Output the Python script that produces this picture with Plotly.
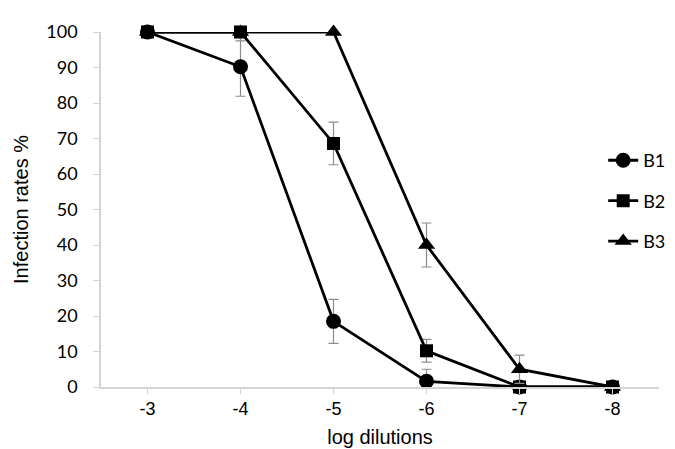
import plotly.graph_objects as go

dilutions = ["-3", "-4", "-5", "-6", "-7", "-8"]

b1 = [100, 90.2, 18.5, 1.6, 0, 0]
b1_err = [None, 8.3, 6.2, 3.4, None, None]

b2 = [100, 100, 68.6, 10.2, 0, 0]
b2_err = [None, 2.5, 6.0, 3.2, None, None]

b3 = [100, 100, 100, 40.0, 5.0, 0]
b3_err = [None, None, None, 6.2, 4.0, None]

series = [
    ("B1", b1, b1_err, "circle", 15),
    ("B2", b2, b2_err, "square", 13),
    ("B3", b3, b3_err, "triangle-up", 15),
]

fig = go.Figure()
for name, vals, err, sym, size in series:
    fig.add_trace(go.Scatter(
        x=dilutions, y=vals, name=name, legendgroup=name,
        mode="lines+markers",
        line=dict(color="black", width=2.8),
        marker=dict(symbol=sym, size=size, color="black"),
        error_y=dict(type="data", array=err, color="#8c8c8c", thickness=1.2, width=5),
        cliponaxis=False,
    ))

fig.update_layout(
    width=675, height=449,
    margin=dict(l=88, r=20, t=12, b=67),
    plot_bgcolor="white", paper_bgcolor="white",
    font=dict(family="Lato, Liberation Sans, sans-serif", size=18, color="black"),
    showlegend=True,
    legend=dict(x=0.9, y=0.69, xanchor="left", yanchor="top",
                bgcolor="rgba(0,0,0,0)", font=dict(size=18),
                tracegroupgap=14),
    xaxis=dict(
        type="category", range=[-0.5, 5.5],
        showline=True, linecolor="#d4d4d4", linewidth=1.5,
        ticks="outside", ticklen=5, tickcolor="#d4d4d4",
        showgrid=False, zeroline=False,
        tickfont=dict(family="Liberation Sans, Arial, sans-serif", size=18),
        title=dict(text="log dilutions", standoff=12,
                   font=dict(family="Liberation Sans, Arial, sans-serif", size=20)),
    ),
    yaxis=dict(
        range=[0, 100], dtick=10,
        showline=True, linecolor="#d4d4d4", linewidth=1.5,
        ticks="outside", ticklen=6, tickcolor="#d4d4d4",
        ticklabelstandoff=12,
        showgrid=False, zeroline=False,
        tickfont=dict(size=18),
        title=dict(text="Infection rates %", standoff=12,
                   font=dict(family="Liberation Sans, Arial, sans-serif", size=20)),
    ),
)

fig.write_html("out.html")
